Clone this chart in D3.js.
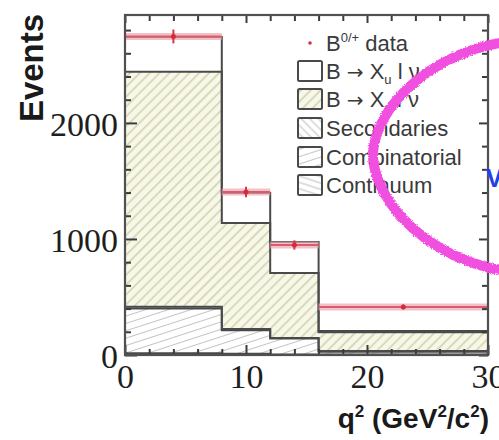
<!DOCTYPE html>
<html>
<head>
<meta charset="utf-8">
<script src="https://cdn.jsdelivr.net/npm/d3@7/dist/d3.min.js"></script>
<style>
  html, body { margin: 0; padding: 0; background: #fff; }
  svg { display: block; }
</style>
</head>
<body>
<svg id="chart" width="499" height="440"></svg>
<script>
// q^2 bin edges (GeV^2/c^2)
const binEdges = [0, 8, 12, 16, 30];
// Measured yields with statistical errors, placed at the bin centroid
const dataX = [4, 10, 14, 23];
const dataVals = [2745, 1405, 948, 414];
const dataErr = [60, 45, 40, 20];
// Stacked components (events per bin)
const continuum = [15, 10, 5, 5];
const combinatorial = [385, 203, 137, 24];
const secondaries = [15, 10, 5, 5];
const xcVals = [2026, 914, 560, 163];
const xuVals = [300, 260, 267, 10];
// Axis ticks
const xMajorTicks = [0, 10, 20, 30];
const yMajorTicks = [0, 1000, 2000];
const legendLabels = ["data", "Xu", "Xc", "Secondaries", "Combinatorial", "Continuum"];

const svg = d3.select("#chart");
const plotL = 125, plotR = 488, plotT = 15, plotB = 355;

const x = d3.scaleLinear().domain([0, 30]).range([plotL, plotR]);
const y = d3.scaleLinear().domain([0, 2930]).range([plotB, plotT]);

// ---------- hatch patterns ----------
const defs = svg.append("defs");
function hatch(id, angle, bg, stroke, gap, sw) {
  const p = defs.append("pattern")
    .attr("id", id)
    .attr("patternUnits", "userSpaceOnUse")
    .attr("width", 40).attr("height", gap)
    .attr("patternTransform", `rotate(${angle})`);
  p.append("rect").attr("width", 40).attr("height", gap).attr("fill", bg);
  p.append("line").attr("x1", 0).attr("x2", 40).attr("y1", gap / 2).attr("y2", gap / 2)
    .attr("stroke", stroke).attr("stroke-width", sw);
}
hatch("hXc", -45, "#f8f8e8", "#cfcfae", 7, 1.3);
hatch("hSec", 45, "#ffffff", "#bdbdbd", 6, 1.2);
hatch("hComb", -18, "#ffffff", "#c4c4c4", 7, 1.2);
hatch("hCont", 18, "#ffffff", "#bdbdbd", 6, 1.2);

// rough-edge marker stroke for the hand-drawn ring
const rough = defs.append("filter").attr("id", "rough")
  .attr("x", "-10%").attr("y", "-10%").attr("width", "120%").attr("height", "120%");
rough.append("feTurbulence").attr("type", "fractalNoise").attr("baseFrequency", 0.9)
  .attr("numOctaves", 2).attr("seed", 3).attr("result", "n");
rough.append("feDisplacementMap").attr("in", "SourceGraphic").attr("in2", "n")
  .attr("scale", 3.5).attr("xChannelSelector", "R").attr("yChannelSelector", "G");

// ---------- stacked histogram ----------
const comps = [
  { key: "cont", vals: continuum, fill: "url(#hCont)" },
  { key: "comb", vals: combinatorial, fill: "url(#hComb)" },
  { key: "sec", vals: secondaries, fill: "url(#hSec)" },
  { key: "xc", vals: xcVals, fill: "url(#hXc)" },
  { key: "xu", vals: xuVals, fill: "#ffffff" }
];
const bins = d3.range(binEdges.length - 1).map(i => {
  const o = { lo: binEdges[i], hi: binEdges[i + 1] };
  comps.forEach(c => { o[c.key] = c.vals[i]; });
  return o;
});
const stacked = d3.stack().keys(comps.map(c => c.key))(bins);

const gHist = svg.append("g");
stacked.forEach(layer => {
  const comp = comps.find(c => c.key === layer.key);
  gHist.selectAll(null).data(layer).enter().append("rect")
    .attr("x", d => x(d.data.lo))
    .attr("width", d => x(d.data.hi) - x(d.data.lo))
    .attr("y", d => y(d[1]))
    .attr("height", d => y(d[0]) - y(d[1]))
    .attr("fill", comp.fill);
});
// step outline of each cumulative level
const step = d3.line().curve(d3.curveStepAfter).x(d => x(d[0])).y(d => y(d[1]));
const lastEdge = binEdges[binEdges.length - 1];
stacked.forEach(layer => {
  const pts = [[0, 0]].concat(layer.map(d => [d.data.lo, d[1]]));
  pts.push([lastEdge, layer[layer.length - 1][1]]);
  pts.push([lastEdge, 0]);
  gHist.append("path").attr("d", step(pts))
    .attr("fill", "none").attr("stroke", "#4a4a4a").attr("stroke-width", 2);
});

// ---------- data points ----------
const gData = svg.append("g");
bins.forEach((b, i) => {
  gData.append("line")
    .attr("x1", x(b.lo)).attr("x2", x(b.hi))
    .attr("y1", y(dataVals[i])).attr("y2", y(dataVals[i]))
    .attr("stroke", "#eba9b2").attr("stroke-width", 7).attr("opacity", 0.7);
  gData.append("line")
    .attr("x1", x(b.lo)).attr("x2", x(b.hi))
    .attr("y1", y(dataVals[i])).attr("y2", y(dataVals[i]))
    .attr("stroke", "#de5a6a").attr("stroke-width", 2);
  gData.append("line")
    .attr("x1", x(dataX[i])).attr("x2", x(dataX[i]))
    .attr("y1", y(dataVals[i] - dataErr[i])).attr("y2", y(dataVals[i] + dataErr[i]))
    .attr("stroke", "#dd3344").attr("stroke-width", 2);
  gData.append("circle")
    .attr("cx", x(dataX[i])).attr("cy", y(dataVals[i])).attr("r", 2.5)
    .attr("fill", "#d42a3c");
});

// ---------- frame and ticks ----------
const tickCol = "#3c3c3c";
const xMinor = d3.range(0, 31, 2).filter(v => !xMajorTicks.includes(v));
const yMinor = d3.range(0, 2930, 200).filter(v => !yMajorTicks.includes(v));

function styleAxis(g) {
  g.select(".domain").remove();
  g.selectAll(".tick line").attr("stroke", tickCol).attr("stroke-width", 2);
}
// bottom
svg.append("g").attr("transform", `translate(0,${plotB})`)
  .call(d3.axisBottom(x).tickValues(xMinor).tickSize(-6).tickFormat(""))
  .call(styleAxis);
const xAx = svg.append("g").attr("transform", `translate(0,${plotB})`)
  .call(d3.axisBottom(x).tickValues(xMajorTicks).tickSize(-10).tickPadding(9).tickFormat(d3.format("d")))
  .call(styleAxis);
xAx.selectAll("text").attr("font-family", "'Liberation Serif', 'DejaVu Serif', serif")
  .attr("font-size", 34).attr("fill", "#1e1e1e");
// top
svg.append("g").attr("transform", `translate(0,${plotT})`)
  .call(d3.axisTop(x).tickValues(xMinor).tickSize(-6).tickFormat(""))
  .call(styleAxis);
svg.append("g").attr("transform", `translate(0,${plotT})`)
  .call(d3.axisTop(x).tickValues(xMajorTicks).tickSize(-8).tickFormat(""))
  .call(styleAxis);
// left
svg.append("g").attr("transform", `translate(${plotL},0)`)
  .call(d3.axisLeft(y).tickValues(yMinor).tickSize(-6).tickFormat(""))
  .call(styleAxis);
const yAx = svg.append("g").attr("transform", `translate(${plotL},0)`)
  .call(d3.axisLeft(y).tickValues(yMajorTicks).tickSize(-12).tickPadding(7).tickFormat(d3.format("d")))
  .call(styleAxis);
yAx.selectAll("text").attr("font-family", "'Liberation Serif', 'DejaVu Serif', serif")
  .attr("font-size", 34).attr("fill", "#1e1e1e").attr("dy", "0.38em");
// right
svg.append("g").attr("transform", `translate(${plotR},0)`)
  .call(d3.axisRight(y).tickValues(yMinor).tickSize(-6).tickFormat(""))
  .call(styleAxis);
svg.append("g").attr("transform", `translate(${plotR},0)`)
  .call(d3.axisRight(y).tickValues(yMajorTicks).tickSize(-9).tickFormat(""))
  .call(styleAxis);

svg.append("rect")
  .attr("x", plotL).attr("y", plotT).attr("width", plotR - plotL).attr("height", plotB - plotT)
  .attr("fill", "none").attr("stroke", "#505050").attr("stroke-width", 2.2);

// ---------- axis titles ----------
svg.append("text")
  .attr("transform", "translate(43,68) rotate(-90)")
  .attr("text-anchor", "middle")
  .attr("font-family", "'Liberation Sans', Arial, sans-serif")
  .attr("font-weight", "bold").attr("font-size", 33).attr("fill", "#1a1a1a")
  .text("Events");

const xt = svg.append("text")
  .attr("x", 489).attr("y", 428).attr("text-anchor", "end")
  .attr("font-family", "'Liberation Sans', Arial, sans-serif")
  .attr("font-weight", "bold").attr("font-size", 28).attr("fill", "#1a1a1a");
xt.append("tspan").text("q");
xt.append("tspan").attr("font-size", 17).attr("dy", -11).text("2");
xt.append("tspan").attr("dy", 11).text(" (GeV");
xt.append("tspan").attr("font-size", 17).attr("dy", -11).text("2");
xt.append("tspan").attr("dy", 11).text("/c");
xt.append("tspan").attr("font-size", 17).attr("dy", -11).text("2");
xt.append("tspan").attr("dy", 11).text(")");

// ---------- legend ----------
const legFont = "'Liberation Sans', Arial, sans-serif";
const legCol = "#3a3a3a";
const rowY = [43, 71, 99, 128, 157, 185];
const legFills = [null, "#ffffff", "url(#hXc)", "url(#hSec)", "url(#hComb)", "url(#hCont)"];
const gLeg = svg.append("g");
legendLabels.forEach((lab, i) => {
  const cy = rowY[i];
  if (i === 0) {
    gLeg.append("circle").attr("cx", 310).attr("cy", cy).attr("r", 1.8).attr("fill", "#d43040");
  } else {
    gLeg.append("rect").attr("x", 298).attr("y", cy - 10).attr("width", 24).attr("height", 20)
      .attr("rx", 1.5)
      .attr("fill", legFills[i]).attr("stroke", "#4a4a4a").attr("stroke-width", 2);
  }
  const t = gLeg.append("text").attr("x", 326).attr("y", cy + 8)
    .attr("font-family", legFont).attr("font-size", 22).attr("fill", legCol);
  if (i === 0) {
    t.append("tspan").text("B");
    t.append("tspan").attr("font-size", 13).attr("dy", -9).text("0/+");
    t.append("tspan").attr("dy", 9).text(" data");
  } else if (i === 1 || i === 2) {
    t.append("tspan").text("B ");
    t.append("tspan").attr("font-family", "'DejaVu Sans', sans-serif").attr("font-size", 20).text("\u2192");
    t.append("tspan").text(" X");
    t.append("tspan").attr("font-size", 13).attr("dy", 5).text(i === 1 ? "u" : "c");
    t.append("tspan").attr("dy", -5).text(" l \u03bd");
  } else {
    t.text(lab);
  }
});

// ---------- overlay marks ----------
svg.append("text").attr("x", 486).attr("y", 187)
  .attr("font-family", legFont).attr("font-weight", "bold").attr("font-size", 25)
  .attr("fill", "#2140e6").text("V");

// hand-drawn ring
const ring = [];
const rcx = 522, rcy = 155, rx = 149, ryT = 117, ryB = 114, expo = 1.8;
for (let a = -Math.PI * 0.46; a <= Math.PI * 0.46 + 1e-6; a += Math.PI / 120) {
  const c = Math.cos(Math.PI + a), s = Math.sin(Math.PI + a);
  const px = rcx + rx * Math.sign(c) * Math.pow(Math.abs(c), 2 / expo);
  const ry = s < 0 ? ryT : ryB;
  const py = rcy - ry * Math.sign(s) * Math.pow(Math.abs(s), 2 / expo);
  ring.push([px, py]);
}
svg.append("path")
  .attr("d", d3.line().curve(d3.curveCatmullRom)(ring))
  .attr("fill", "none").attr("stroke", "#f04fe0").attr("stroke-width", 10)
  .attr("stroke-linecap", "round").attr("filter", "url(#rough)");
</script>
</body>
</html>
